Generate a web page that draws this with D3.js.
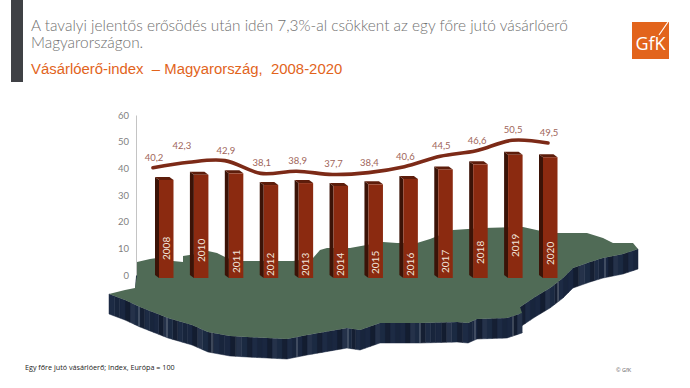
<!DOCTYPE html>
<html>
<head>
<meta charset="utf-8">
<script src="https://cdn.jsdelivr.net/npm/d3@7"></script>
<style>
    html, body { margin: 0; padding: 0; background: #fff; }
    svg { display: block; }
</style>
</head>
<body>
<div id="chart"></div>
<script>
// chart values
let years = ["2008", "2010", "2011", "2012", "2013", "2014", "2015", "2016", "2017", "2018", "2019", "2020"];
let index = [40.2, 42.3, 42.9, 38.1, 38.9, 37.7, 38.4, 40.6, 44.5, 46.6, 50.5, 49.5];
let axisTicks = [0, 10, 20, 30, 40, 50, 60];

// how far each year label sits above the foot of its bar
let yearLift = [17, 15, 4, 1, 1, 1, 3, 1, 4, 13, 20, 12];

// outline of the map (back edge, then front edge)
let mapBack = [[109,294],[125,290],[135,288],[137,275],[137,262],[150,259],[157,258],[173,261],[183,262],[183,256],
    [196,254],[208,251],[217,253],[227,258],[237,261],[260,261],[293,261],[313,258],[320,250],[327,248],[350,248],
    [383,242],[397,243],[417,243],[430,239],[453,230],[483,228],[523,227],[550,233],[583,233],[587,233],[603,238],
    [613,243],[633,243],[638,249]];
let mapFront = [[638,249],[623,254],[603,258],[590,262],[573,268],[563,278],[550,288],[535,297],[520,307],[522,313],
    [507,318],[477,319],[468,323],[457,322],[420,323],[380,323],[360,330],[347,328],[307,335],[287,339],[247,337],
    [230,336],[208,332],[192,325],[168,318],[140,307],[125,300],[109,294]];
let wallShades = ["#18253c", "#1d2b44", "#151f33", "#1b2a42", "#25324a", "#131d30", "#1a2740"];
let wallLights = [139, 167, 212, 297, 348, 420, 475, 513, 558, 605];

let width = 690, height = 388;
let svg = d3.select("#chart").append("svg").attr("width", width).attr("height", height);

// header
svg.append("rect").attr("x", 11).attr("y", 0).attr("width", 12).attr("height", 82).attr("fill", "#3f4145");

svg.selectAll("text.title")
    .data(["A tavalyi jelentős erősödés után idén 7,3%-al csökkent az egy főre jutó vásárlóerő", "Magyarországon."])
    .join("text")
    .attr("class", "title")
    .attr("x", 31)
    .attr("y", (d, i) => 31 + i * 17)
    .attr("font-family", "Lato")
    .attr("font-weight", 300)
    .attr("font-size", 15.4)
    .attr("fill", "#707070")
    .text(d => d);

svg.append("text")
    .attr("x", 31)
    .attr("y", 74)
    .attr("font-family", "Liberation Sans")
    .attr("font-size", 14.9)
    .attr("fill", "#e2641c")
    .style("white-space", "pre")
    .text("Vásárlóerő-index  – Magyarország,  2008-2020");

// logo
let logo = svg.append("g").attr("transform", "translate(632,22)");
logo.append("rect").attr("width", 37).attr("height", 37).attr("fill", "#e2641c");
logo.append("text")
    .attr("x", 18.5)
    .attr("y", 28)
    .attr("text-anchor", "middle")
    .attr("font-family", "Open Sans")
    .attr("font-size", 18)
    .attr("fill", "#fff")
    .text("GfK");
logo.append("line")
    .attr("x1", 27).attr("y1", 13).attr("x2", 36).attr("y2", 0)
    .attr("stroke", "#fff").attr("stroke-width", 1.2);

// map: extruded wall first, then the green top
let depth = 20;
let mapLine = d3.line();
let wall = svg.append("g");
let strip = 0;
d3.pairs(mapFront).forEach(p => {
    let cuts = Math.max(1, Math.round(Math.abs(p[1][0] - p[0][0]) / 5));
    d3.range(cuts).forEach(k => {
        let a = d3.interpolate(p[0], p[1])(k / cuts);
        let b = d3.interpolate(p[0], p[1])((k + 1) / cuts);
        let shade = wallShades[strip++ % wallShades.length];
        wall.append("path")
            .attr("d", mapLine([a, b, [b[0], b[1] + depth], [a[0], a[1] + depth]]) + "Z")
            .attr("fill", shade)
            .attr("stroke", shade)
            .attr("stroke-width", 0.5);
    });
});
// pale seams in the wall
wallLights.forEach(x => {
    let p = d3.pairs(mapFront).find(s => s[0][0] >= x && s[1][0] <= x);
    let top = d3.interpolate(p[0][1], p[1][1])((p[0][0] - x) / (p[0][0] - p[1][0]));
    wall.append("line")
        .attr("x1", x).attr("x2", x)
        .attr("y1", top).attr("y2", top + depth)
        .attr("stroke", "#7b8596")
        .attr("stroke-width", 0.8);
});
// little dark bits that show behind the top
svg.append("path").attr("d", mapLine([[137,262],[147,263],[140,280],[135,290]]) + "Z").attr("fill", "#1c2a42");
svg.append("path").attr("d", mapLine([[183,256],[190,256],[190,263],[183,263]]) + "Z").attr("fill", "#1c2a42");

svg.append("path")
    .attr("d", mapLine(mapBack.concat(mapFront.slice(1))) + "Z")
    .attr("fill", "#506b56");

// axis
let y = d3.scaleLinear().domain([0, 60]).range([275, 115]);
let axis = svg.append("g")
    .attr("transform", "translate(136,0)")
    .call(d3.axisLeft(y).tickValues(axisTicks).tickSize(0).tickPadding(7));
axis.select(".domain").attr("stroke", "#c4c4c4");
axis.selectAll("text")
    .attr("font-family", "Lato")
    .attr("font-size", 9.5)
    .attr("fill", "#7f7f7f");

// bars have their own scale, they stand in front of the axis plane
let barX = d3.scalePoint().domain(years).range([159, 543]);
let barY = d3.scaleLinear().domain([0, 60]).range([278, 131.6]);
let barW = 14.5, sideX = 4, sideY = 3;

let bar = svg.selectAll("g.bar")
    .data(years)
    .join("g")
    .attr("class", "bar");

bar.append("path")
    .attr("fill", "#3b1307")
    .attr("d", (d, i) => {
        let x0 = barX(d), top = barY(index[i]), foot = barY(0);
        return mapLine([[x0 - sideX, top - sideY], [x0, top], [x0, foot], [x0 - sideX, foot - sideY]]) + "Z";
    });
bar.append("path")
    .attr("fill", "#5d1d0b")
    .attr("d", (d, i) => {
        let x0 = barX(d), top = barY(index[i]);
        return mapLine([[x0 - sideX, top - sideY], [x0 + barW - sideX, top - sideY], [x0 + barW, top], [x0, top]]) + "Z";
    });
bar.append("rect")
    .attr("x", d => barX(d))
    .attr("y", (d, i) => barY(index[i]))
    .attr("width", barW)
    .attr("height", (d, i) => barY(0) - barY(index[i]))
    .attr("fill", "#8b2a10");
bar.append("text")
    .attr("transform", (d, i) => `translate(${barX(d) + barW / 2 + 3.5},${barY(0) - yearLift[i] - 1}) rotate(-90)`)
    .attr("font-family", "Lato")
    .attr("font-size", 10)
    .attr("fill", "#f2e6de")
    .text(d => d);

// line and its labels
let lineX = d3.scalePoint().domain(years).range([153, 548]);
let trend = d3.line()
    .x((d, i) => lineX(years[i]))
    .y(d => y(d))
    .curve(d3.curveCatmullRom.alpha(0.5));

svg.append("path")
    .attr("d", trend(index))
    .attr("fill", "none")
    .attr("stroke", "#7c2a17")
    .attr("stroke-width", 3.6)
    .attr("stroke-linecap", "round");

svg.selectAll("text.value")
    .data(index)
    .join("text")
    .attr("class", "value")
    .attr("x", (d, i) => lineX(years[i]) + (i === 1 ? -7 : 1))
    .attr("y", (d, i) => y(d) - (i === 1 ? 13 : 7))
    .attr("text-anchor", "middle")
    .attr("font-family", "Lato")
    .attr("font-size", 9.5)
    .attr("fill", "#a0655a")
    .text(d => String(d).replace(".", ","));

// footer
svg.append("text")
    .attr("x", 25)
    .attr("y", 370)
    .attr("font-family", "Open Sans")
    .attr("font-size", 7.2)
    .attr("fill", "#222")
    .text("Egy főre jutó vásárlóerő; Index, Európa = 100");
svg.append("text")
    .attr("x", 616)
    .attr("y", 372)
    .attr("font-family", "Open Sans")
    .attr("font-size", 5.5)
    .attr("fill", "#666")
    .text("© GfK");
</script>
</body>
</html>
